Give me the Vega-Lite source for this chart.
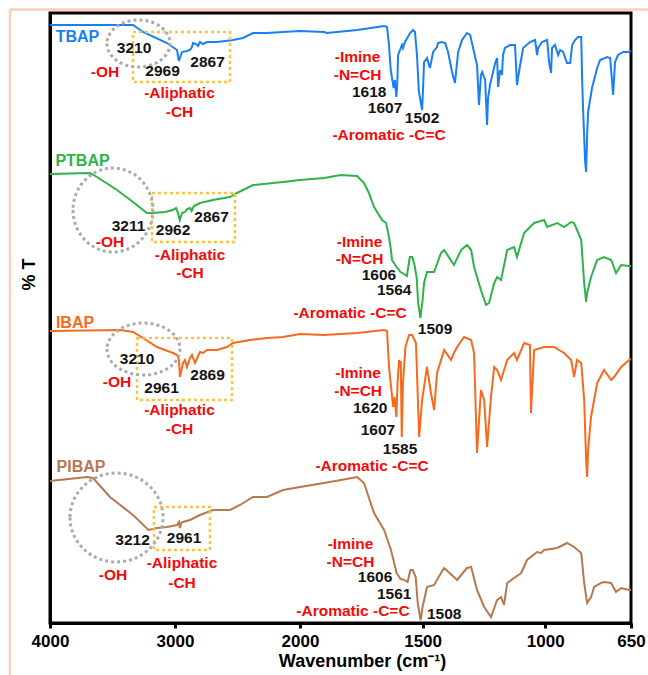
{
  "$schema": "https://vega.github.io/schema/vega-lite/v6.json",
  "width": 581,
  "height": 610,
  "autosize": {"type": "none"},
  "padding": {"left": 50, "top": 13, "right": 17, "bottom": 52},
  "background": "white",
  "config": {
    "font": "Liberation Sans",
    "view": {"stroke": "black", "strokeWidth": 3},
    "axis": {"grid": false, "domainColor": "black", "domainWidth": 3, "titleFontWeight": "bold", "titleColor": "black", "labelColor": "black"}
  },
  "datasets": {
    "one": [{}],
    "spectra": [
      {"s":"TBAP","wn":4000,"t":598},{"s":"TBAP","wn":3336,"t":598},{"s":"TBAP","wn":3256,"t":591},{"s":"TBAP","wn":3064,"t":580},
      {"s":"TBAP","wn":2984,"t":573},{"s":"TBAP","wn":2969,"t":562},{"s":"TBAP","wn":2944,"t":571},{"s":"TBAP","wn":2904,"t":572},
      {"s":"TBAP","wn":2880,"t":573},{"s":"TBAP","wn":2864,"t":576},{"s":"TBAP","wn":2856,"t":580},{"s":"TBAP","wn":2832,"t":579},
      {"s":"TBAP","wn":2816,"t":577},{"s":"TBAP","wn":2800,"t":581},{"s":"TBAP","wn":2776,"t":579},{"s":"TBAP","wn":2744,"t":581},
      {"s":"TBAP","wn":2664,"t":581},{"s":"TBAP","wn":2536,"t":583},{"s":"TBAP","wn":2456,"t":585},{"s":"TBAP","wn":2376,"t":590},
      {"s":"TBAP","wn":2264,"t":590},{"s":"TBAP","wn":2136,"t":591},{"s":"TBAP","wn":2000,"t":592},{"s":"TBAP","wn":1902,"t":591},
      {"s":"TBAP","wn":1890,"t":590},{"s":"TBAP","wn":1767,"t":593},{"s":"TBAP","wn":1657,"t":597},{"s":"TBAP","wn":1645,"t":596},
      {"s":"TBAP","wn":1637,"t":578},{"s":"TBAP","wn":1630,"t":553},{"s":"TBAP","wn":1618,"t":535},{"s":"TBAP","wn":1613,"t":543},
      {"s":"TBAP","wn":1607,"t":526},{"s":"TBAP","wn":1603,"t":541},{"s":"TBAP","wn":1600,"t":568},{"s":"TBAP","wn":1584,"t":578},
      {"s":"TBAP","wn":1580,"t":575},{"s":"TBAP","wn":1572,"t":581},{"s":"TBAP","wn":1551,"t":590},{"s":"TBAP","wn":1539,"t":593},
      {"s":"TBAP","wn":1531,"t":591},{"s":"TBAP","wn":1523,"t":568},{"s":"TBAP","wn":1515,"t":531},{"s":"TBAP","wn":1502,"t":513},
      {"s":"TBAP","wn":1498,"t":535},{"s":"TBAP","wn":1494,"t":561},{"s":"TBAP","wn":1482,"t":565},{"s":"TBAP","wn":1470,"t":555},
      {"s":"TBAP","wn":1457,"t":571},{"s":"TBAP","wn":1441,"t":576},{"s":"TBAP","wn":1437,"t":580},{"s":"TBAP","wn":1421,"t":581},
      {"s":"TBAP","wn":1408,"t":580},{"s":"TBAP","wn":1396,"t":571},{"s":"TBAP","wn":1380,"t":551},{"s":"TBAP","wn":1368,"t":540},
      {"s":"TBAP","wn":1355,"t":571},{"s":"TBAP","wn":1339,"t":583},{"s":"TBAP","wn":1319,"t":590},{"s":"TBAP","wn":1306,"t":588},
      {"s":"TBAP","wn":1294,"t":575},{"s":"TBAP","wn":1278,"t":558},{"s":"TBAP","wn":1270,"t":518},{"s":"TBAP","wn":1262,"t":548},
      {"s":"TBAP","wn":1257,"t":551},{"s":"TBAP","wn":1245,"t":543},{"s":"TBAP","wn":1237,"t":498},{"s":"TBAP","wn":1233,"t":525},
      {"s":"TBAP","wn":1225,"t":538},{"s":"TBAP","wn":1204,"t":560},{"s":"TBAP","wn":1196,"t":565},{"s":"TBAP","wn":1192,"t":536},
      {"s":"TBAP","wn":1184,"t":553},{"s":"TBAP","wn":1176,"t":548},{"s":"TBAP","wn":1172,"t":568},{"s":"TBAP","wn":1164,"t":575},
      {"s":"TBAP","wn":1143,"t":578},{"s":"TBAP","wn":1123,"t":578},{"s":"TBAP","wn":1115,"t":538},{"s":"TBAP","wn":1111,"t":545},
      {"s":"TBAP","wn":1102,"t":558},{"s":"TBAP","wn":1090,"t":575},{"s":"TBAP","wn":1062,"t":581},{"s":"TBAP","wn":1041,"t":583},
      {"s":"TBAP","wn":1033,"t":568},{"s":"TBAP","wn":1029,"t":575},{"s":"TBAP","wn":1013,"t":581},{"s":"TBAP","wn":992,"t":583},
      {"s":"TBAP","wn":984,"t":561},{"s":"TBAP","wn":976,"t":550},{"s":"TBAP","wn":972,"t":575},{"s":"TBAP","wn":960,"t":578},
      {"s":"TBAP","wn":947,"t":568},{"s":"TBAP","wn":939,"t":573},{"s":"TBAP","wn":927,"t":571},{"s":"TBAP","wn":911,"t":560},
      {"s":"TBAP","wn":898,"t":560},{"s":"TBAP","wn":890,"t":578},{"s":"TBAP","wn":878,"t":583},{"s":"TBAP","wn":866,"t":586},
      {"s":"TBAP","wn":853,"t":586},{"s":"TBAP","wn":849,"t":541},{"s":"TBAP","wn":845,"t":511},{"s":"TBAP","wn":837,"t":461},
      {"s":"TBAP","wn":833,"t":451},{"s":"TBAP","wn":829,"t":488},{"s":"TBAP","wn":825,"t":511},{"s":"TBAP","wn":809,"t":535},
      {"s":"TBAP","wn":788,"t":555},{"s":"TBAP","wn":776,"t":563},{"s":"TBAP","wn":747,"t":566},{"s":"TBAP","wn":735,"t":565},
      {"s":"TBAP","wn":727,"t":541},{"s":"TBAP","wn":723,"t":528},{"s":"TBAP","wn":715,"t":561},{"s":"TBAP","wn":703,"t":568},
      {"s":"TBAP","wn":682,"t":571},{"s":"TBAP","wn":662,"t":571},{"s":"TBAP","wn":650,"t":572},

      {"s":"PTBAP","wn":4000,"t":449},{"s":"PTBAP","wn":3680,"t":450},{"s":"PTBAP","wn":3624,"t":446},{"s":"PTBAP","wn":3464,"t":433},
      {"s":"PTBAP","wn":3336,"t":421},{"s":"PTBAP","wn":3224,"t":410},{"s":"PTBAP","wn":3176,"t":410},{"s":"PTBAP","wn":3080,"t":411},
      {"s":"PTBAP","wn":3016,"t":413},{"s":"PTBAP","wn":2992,"t":415},{"s":"PTBAP","wn":2976,"t":410},{"s":"PTBAP","wn":2962,"t":403},
      {"s":"PTBAP","wn":2944,"t":410},{"s":"PTBAP","wn":2920,"t":411},{"s":"PTBAP","wn":2904,"t":414},{"s":"PTBAP","wn":2880,"t":415},
      {"s":"PTBAP","wn":2867,"t":412},{"s":"PTBAP","wn":2848,"t":417},{"s":"PTBAP","wn":2800,"t":420},{"s":"PTBAP","wn":2696,"t":423},
      {"s":"PTBAP","wn":2560,"t":426},{"s":"PTBAP","wn":2504,"t":430},{"s":"PTBAP","wn":2376,"t":438},{"s":"PTBAP","wn":2136,"t":441},
      {"s":"PTBAP","wn":2000,"t":443},{"s":"PTBAP","wn":1902,"t":445},{"s":"PTBAP","wn":1833,"t":448},{"s":"PTBAP","wn":1767,"t":447},
      {"s":"PTBAP","wn":1739,"t":440},{"s":"PTBAP","wn":1719,"t":430},{"s":"PTBAP","wn":1698,"t":416},{"s":"PTBAP","wn":1678,"t":408},
      {"s":"PTBAP","wn":1665,"t":403},{"s":"PTBAP","wn":1649,"t":400},{"s":"PTBAP","wn":1637,"t":386},{"s":"PTBAP","wn":1629,"t":373},
      {"s":"PTBAP","wn":1625,"t":363},{"s":"PTBAP","wn":1606,"t":356},{"s":"PTBAP","wn":1590,"t":351},{"s":"PTBAP","wn":1576,"t":349},
      {"s":"PTBAP","wn":1564,"t":347},{"s":"PTBAP","wn":1552,"t":366},{"s":"PTBAP","wn":1542,"t":366},{"s":"PTBAP","wn":1532,"t":357},
      {"s":"PTBAP","wn":1524,"t":345},{"s":"PTBAP","wn":1518,"t":320},{"s":"PTBAP","wn":1509,"t":305},{"s":"PTBAP","wn":1500,"t":323},
      {"s":"PTBAP","wn":1494,"t":340},{"s":"PTBAP","wn":1482,"t":351},{"s":"PTBAP","wn":1453,"t":351},{"s":"PTBAP","wn":1425,"t":370},
      {"s":"PTBAP","wn":1412,"t":373},{"s":"PTBAP","wn":1372,"t":358},{"s":"PTBAP","wn":1343,"t":373},{"s":"PTBAP","wn":1319,"t":378},
      {"s":"PTBAP","wn":1302,"t":373},{"s":"PTBAP","wn":1290,"t":356},{"s":"PTBAP","wn":1262,"t":333},{"s":"PTBAP","wn":1241,"t":318},
      {"s":"PTBAP","wn":1229,"t":320},{"s":"PTBAP","wn":1208,"t":340},{"s":"PTBAP","wn":1196,"t":346},{"s":"PTBAP","wn":1180,"t":343},
      {"s":"PTBAP","wn":1155,"t":373},{"s":"PTBAP","wn":1127,"t":376},{"s":"PTBAP","wn":1115,"t":366},{"s":"PTBAP","wn":1086,"t":390},
      {"s":"PTBAP","wn":1045,"t":400},{"s":"PTBAP","wn":1004,"t":403},{"s":"PTBAP","wn":992,"t":396},{"s":"PTBAP","wn":951,"t":400},
      {"s":"PTBAP","wn":923,"t":396},{"s":"PTBAP","wn":894,"t":401},{"s":"PTBAP","wn":882,"t":400},{"s":"PTBAP","wn":853,"t":383},
      {"s":"PTBAP","wn":841,"t":340},{"s":"PTBAP","wn":833,"t":321},{"s":"PTBAP","wn":829,"t":330},{"s":"PTBAP","wn":813,"t":346},
      {"s":"PTBAP","wn":788,"t":363},{"s":"PTBAP","wn":760,"t":366},{"s":"PTBAP","wn":731,"t":363},{"s":"PTBAP","wn":711,"t":350},
      {"s":"PTBAP","wn":690,"t":358},{"s":"PTBAP","wn":658,"t":357},{"s":"PTBAP","wn":650,"t":357},

      {"s":"IBAP","wn":4000,"t":292},{"s":"IBAP","wn":3440,"t":293},{"s":"IBAP","wn":3336,"t":291},{"s":"IBAP","wn":3256,"t":285},
      {"s":"IBAP","wn":3144,"t":276},{"s":"IBAP","wn":3016,"t":270},{"s":"IBAP","wn":2984,"t":268},{"s":"IBAP","wn":2968,"t":263},
      {"s":"IBAP","wn":2961,"t":246},{"s":"IBAP","wn":2952,"t":251},{"s":"IBAP","wn":2936,"t":260},{"s":"IBAP","wn":2920,"t":263},
      {"s":"IBAP","wn":2904,"t":256},{"s":"IBAP","wn":2880,"t":265},{"s":"IBAP","wn":2864,"t":268},{"s":"IBAP","wn":2840,"t":260},
      {"s":"IBAP","wn":2800,"t":271},{"s":"IBAP","wn":2776,"t":270},{"s":"IBAP","wn":2744,"t":273},{"s":"IBAP","wn":2664,"t":273},
      {"s":"IBAP","wn":2584,"t":276},{"s":"IBAP","wn":2536,"t":280},{"s":"IBAP","wn":2400,"t":283},{"s":"IBAP","wn":2264,"t":285},
      {"s":"IBAP","wn":2136,"t":286},{"s":"IBAP","wn":2000,"t":289},{"s":"IBAP","wn":1902,"t":288},{"s":"IBAP","wn":1767,"t":290},
      {"s":"IBAP","wn":1657,"t":293},{"s":"IBAP","wn":1645,"t":292},{"s":"IBAP","wn":1637,"t":256},{"s":"IBAP","wn":1620,"t":216},
      {"s":"IBAP","wn":1614,"t":226},{"s":"IBAP","wn":1607,"t":206},{"s":"IBAP","wn":1602,"t":240},{"s":"IBAP","wn":1596,"t":263},
      {"s":"IBAP","wn":1592,"t":256},{"s":"IBAP","wn":1589,"t":262},{"s":"IBAP","wn":1585,"t":186},{"s":"IBAP","wn":1580,"t":240},
      {"s":"IBAP","wn":1570,"t":276},{"s":"IBAP","wn":1555,"t":288},{"s":"IBAP","wn":1543,"t":288},{"s":"IBAP","wn":1527,"t":280},
      {"s":"IBAP","wn":1514,"t":186},{"s":"IBAP","wn":1502,"t":223},{"s":"IBAP","wn":1482,"t":256},{"s":"IBAP","wn":1466,"t":230},
      {"s":"IBAP","wn":1453,"t":213},{"s":"IBAP","wn":1441,"t":250},{"s":"IBAP","wn":1412,"t":273},{"s":"IBAP","wn":1384,"t":263},
      {"s":"IBAP","wn":1372,"t":270},{"s":"IBAP","wn":1359,"t":276},{"s":"IBAP","wn":1331,"t":286},{"s":"IBAP","wn":1302,"t":283},
      {"s":"IBAP","wn":1290,"t":270},{"s":"IBAP","wn":1278,"t":170},{"s":"IBAP","wn":1262,"t":233},{"s":"IBAP","wn":1249,"t":223},
      {"s":"IBAP","wn":1237,"t":176},{"s":"IBAP","wn":1221,"t":226},{"s":"IBAP","wn":1208,"t":256},{"s":"IBAP","wn":1196,"t":253},
      {"s":"IBAP","wn":1180,"t":243},{"s":"IBAP","wn":1155,"t":263},{"s":"IBAP","wn":1127,"t":270},{"s":"IBAP","wn":1115,"t":263},
      {"s":"IBAP","wn":1086,"t":280},{"s":"IBAP","wn":1062,"t":278},{"s":"IBAP","wn":1058,"t":210},{"s":"IBAP","wn":1045,"t":273},
      {"s":"IBAP","wn":1004,"t":276},{"s":"IBAP","wn":964,"t":276},{"s":"IBAP","wn":923,"t":270},{"s":"IBAP","wn":894,"t":263},
      {"s":"IBAP","wn":882,"t":246},{"s":"IBAP","wn":870,"t":263},{"s":"IBAP","wn":853,"t":260},{"s":"IBAP","wn":841,"t":223},
      {"s":"IBAP","wn":833,"t":163},{"s":"IBAP","wn":829,"t":146},{"s":"IBAP","wn":825,"t":173},{"s":"IBAP","wn":813,"t":206},
      {"s":"IBAP","wn":788,"t":240},{"s":"IBAP","wn":760,"t":253},{"s":"IBAP","wn":731,"t":243},{"s":"IBAP","wn":719,"t":246},
      {"s":"IBAP","wn":690,"t":256},{"s":"IBAP","wn":658,"t":263},{"s":"IBAP","wn":650,"t":264},

      {"s":"PIBAP","wn":4000,"t":142},{"s":"PIBAP","wn":3704,"t":146},{"s":"PIBAP","wn":3656,"t":145},{"s":"PIBAP","wn":3520,"t":126},
      {"s":"PIBAP","wn":3336,"t":108},{"s":"PIBAP","wn":3212,"t":93},{"s":"PIBAP","wn":3144,"t":95},{"s":"PIBAP","wn":3064,"t":96},
      {"s":"PIBAP","wn":2984,"t":98},{"s":"PIBAP","wn":2968,"t":101},{"s":"PIBAP","wn":2961,"t":95},{"s":"PIBAP","wn":2950,"t":100},
      {"s":"PIBAP","wn":2936,"t":101},{"s":"PIBAP","wn":2880,"t":103},{"s":"PIBAP","wn":2800,"t":108},{"s":"PIBAP","wn":2696,"t":113},
      {"s":"PIBAP","wn":2560,"t":113},{"s":"PIBAP","wn":2480,"t":118},{"s":"PIBAP","wn":2376,"t":126},{"s":"PIBAP","wn":2264,"t":126},
      {"s":"PIBAP","wn":2136,"t":133},{"s":"PIBAP","wn":2000,"t":136},{"s":"PIBAP","wn":1902,"t":140},{"s":"PIBAP","wn":1833,"t":143},
      {"s":"PIBAP","wn":1767,"t":146},{"s":"PIBAP","wn":1739,"t":140},{"s":"PIBAP","wn":1698,"t":110},{"s":"PIBAP","wn":1657,"t":93},
      {"s":"PIBAP","wn":1629,"t":73},{"s":"PIBAP","wn":1606,"t":50},{"s":"PIBAP","wn":1590,"t":44},{"s":"PIBAP","wn":1575,"t":43},
      {"s":"PIBAP","wn":1561,"t":41},{"s":"PIBAP","wn":1550,"t":53},{"s":"PIBAP","wn":1540,"t":53},{"s":"PIBAP","wn":1528,"t":46},
      {"s":"PIBAP","wn":1520,"t":20},{"s":"PIBAP","wn":1508,"t":3},{"s":"PIBAP","wn":1500,"t":16},{"s":"PIBAP","wn":1482,"t":36},
      {"s":"PIBAP","wn":1453,"t":38},{"s":"PIBAP","wn":1425,"t":50},{"s":"PIBAP","wn":1412,"t":55},{"s":"PIBAP","wn":1359,"t":43},
      {"s":"PIBAP","wn":1319,"t":55},{"s":"PIBAP","wn":1302,"t":56},{"s":"PIBAP","wn":1278,"t":33},{"s":"PIBAP","wn":1249,"t":16},
      {"s":"PIBAP","wn":1221,"t":6},{"s":"PIBAP","wn":1196,"t":23},{"s":"PIBAP","wn":1180,"t":26},{"s":"PIBAP","wn":1168,"t":18},
      {"s":"PIBAP","wn":1155,"t":40},{"s":"PIBAP","wn":1127,"t":45},{"s":"PIBAP","wn":1098,"t":50},{"s":"PIBAP","wn":1074,"t":63},
      {"s":"PIBAP","wn":1033,"t":71},{"s":"PIBAP","wn":1017,"t":70},{"s":"PIBAP","wn":1004,"t":73},{"s":"PIBAP","wn":951,"t":75},
      {"s":"PIBAP","wn":911,"t":80},{"s":"PIBAP","wn":882,"t":76},{"s":"PIBAP","wn":853,"t":70},{"s":"PIBAP","wn":841,"t":40},
      {"s":"PIBAP","wn":829,"t":20},{"s":"PIBAP","wn":813,"t":26},{"s":"PIBAP","wn":800,"t":36},{"s":"PIBAP","wn":772,"t":40},
      {"s":"PIBAP","wn":760,"t":41},{"s":"PIBAP","wn":731,"t":40},{"s":"PIBAP","wn":711,"t":31},{"s":"PIBAP","wn":690,"t":35},
      {"s":"PIBAP","wn":658,"t":33},{"s":"PIBAP","wn":650,"t":33}
    ],
    "names": [
      {"s":"TBAP","wn":3780,"t":586},
      {"s":"PTBAP","wn":3740,"t":462},
      {"s":"IBAP","wn":3800,"t":300},
      {"s":"PIBAP","wn":3752,"t":156}
    ],
    "peaks": [
      {"wn":3328,"t":575,"label":"3210"},{"wn":3100,"t":552,"label":"2969"},{"wn":2740,"t":561,"label":"2867"},
      {"wn":1718,"t":531,"label":"1618"},{"wn":1653,"t":515,"label":"1607"},{"wn":1502,"t":505,"label":"1502"},
      {"wn":3372,"t":397,"label":"3211"},{"wn":3016,"t":393,"label":"2962"},{"wn":2708,"t":406,"label":"2867"},
      {"wn":1678,"t":348,"label":"1606"},{"wn":1616,"t":333,"label":"1564"},{"wn":1449,"t":294,"label":"1509"},
      {"wn":3304,"t":264,"label":"3210"},{"wn":3108,"t":235,"label":"2961"},{"wn":2740,"t":248,"label":"2869"},
      {"wn":1714,"t":215,"label":"1620"},{"wn":1682,"t":193,"label":"1607"},{"wn":1592,"t":174,"label":"1585"},
      {"wn":3340,"t":83,"label":"3212"},{"wn":2928,"t":85,"label":"2961"},
      {"wn":1694,"t":46,"label":"1606"},{"wn":1616,"t":29,"label":"1561"},{"wn":1412,"t":9,"label":"1508"}
    ],
    "groups": [
      {"wn":3560,"t":551,"label":"-OH"},{"wn":2964,"t":530,"label":"-Aliphatic"},{"wn":2964,"t":511,"label":"-CH"},
      {"wn":1765,"t":566,"label":"-Imine"},{"wn":1765,"t":548,"label":"-N=CH"},{"wn":1637,"t":488,"label":"-Aromatic -C=C"},
      {"wn":3520,"t":381,"label":"-OH"},{"wn":2880,"t":368,"label":"-Aliphatic"},{"wn":2880,"t":350,"label":"-CH"},
      {"wn":1757,"t":381,"label":"-Imine"},{"wn":1757,"t":364,"label":"-N=CH"},{"wn":1796,"t":310,"label":"-Aromatic -C=C"},
      {"wn":3464,"t":241,"label":"-OH"},{"wn":2964,"t":213,"label":"-Aliphatic"},{"wn":2964,"t":194,"label":"-CH"},
      {"wn":1763,"t":250,"label":"-Imine"},{"wn":1763,"t":232,"label":"-N=CH"},{"wn":1706,"t":157,"label":"-Aromatic -C=C"},
      {"wn":3496,"t":48,"label":"-OH"},{"wn":2944,"t":60,"label":"-Aliphatic"},{"wn":2944,"t":40,"label":"-CH"},
      {"wn":1794,"t":79,"label":"-Imine"},{"wn":1794,"t":61,"label":"-N=CH"},{"wn":1784,"t":12,"label":"-Aromatic -C=C"}
    ],
    "bands": [
      {"wn1":3336,"wn2":2560,"t1":591,"t2":541},
      {"wn1":3184,"wn2":2520,"t1":430,"t2":381},
      {"wn1":3304,"wn2":2544,"t1":285,"t2":223},
      {"wn1":3168,"wn2":2720,"t1":116,"t2":73}
    ]
  },
  "layer": [
    {
      "data": {"name": "one"},
      "mark": {"type": "rule", "stroke": "#f9cfb6", "strokeWidth": 2.5},
      "encoding": {
        "x": {"datum": 4320, "type": "quantitative"},
        "y": {"datum": 613.5, "type": "quantitative"},
        "y2": {"datum": -80}
      }
    },
    {
      "data": {"name": "one"},
      "mark": {"type": "rule", "stroke": "#f9cfb6", "strokeWidth": 2.5},
      "encoding": {
        "x": {"datum": 4320, "type": "quantitative"},
        "x2": {"datum": 450},
        "y": {"datum": 613.5, "type": "quantitative"}
      }
    },
    {
      "data": {"name": "spectra"},
      "mark": {"type": "line", "strokeWidth": 2},
      "encoding": {
        "x": {
          "field": "wn", "type": "quantitative",
          "scale": {"type": "linear", "domain": [4000, 2000, 650], "range": [0, 250, 581], "nice": false, "zero": false},
          "axis": {
            "values": [4000, 3000, 2000, 1500, 1000, 650], "format": "d",
            "labelFontSize": 17, "labelFontWeight": "bold", "labelPadding": 5, "labelFlush": false, "labelOverlap": false,
            "tickSize": 5, "tickWidth": 3, "tickColor": "black",
            "title": "Wavenumber (cm⁻¹)", "titleFontSize": 18, "titleX": 312, "titleY": 38,
            "titleAlign": "center", "titleBaseline": "middle"
          }
        },
        "y": {
          "field": "t", "type": "quantitative",
          "scale": {"domain": [0, 610], "nice": false, "zero": false},
          "axis": {
            "labels": false, "ticks": false, "title": "% T", "titleFontSize": 18,
            "titleAngle": 270, "titleX": -21, "titleY": 261, "titleAlign": "center", "titleBaseline": "middle"
          }
        },
        "color": {
          "field": "s", "type": "nominal", "legend": null,
          "scale": {"domain": ["TBAP", "PTBAP", "IBAP", "PIBAP"], "range": ["#1a7ff2", "#2db34a", "#f7691d", "#b8784e"]}
        }
      }
    },
    {
      "data": {"name": "bands"},
      "mark": {"type": "rect", "fill": "transparent", "stroke": "#fcc43c", "strokeWidth": 2.5, "strokeDash": [3, 3]},
      "encoding": {
        "x": {"field": "wn1", "type": "quantitative"},
        "x2": {"field": "wn2"},
        "y": {"field": "t1", "type": "quantitative"},
        "y2": {"field": "t2"}
      }
    },
    {
      "data": {"name": "one"},
      "mark": {"type": "point", "filled": false, "opacity": 1, "stroke": "#ababab", "strokeWidth": 3, "strokeDash": [3, 3],
               "shape": "M -1 0 A 1 0.746 0 1 0 1 0 A 1 0.746 0 1 0 -1 0 Z", "size": 3969},
      "encoding": {"x": {"datum": 3292, "type": "quantitative"}, "y": {"datum": 579.5, "type": "quantitative"}}
    },
    {
      "data": {"name": "one"},
      "mark": {"type": "point", "filled": false, "opacity": 1, "stroke": "#ababab", "strokeWidth": 3, "strokeDash": [3, 3],
               "shape": "M -0.952 0 A 0.952 1 0 1 0 0.952 0 A 0.952 1 0 1 0 -0.952 0 Z", "size": 7056},
      "encoding": {"x": {"datum": 3496, "type": "quantitative"}, "y": {"datum": 413, "type": "quantitative"}}
    },
    {
      "data": {"name": "one"},
      "mark": {"type": "point", "filled": false, "opacity": 1, "stroke": "#ababab", "strokeWidth": 3, "strokeDash": [3, 3],
               "shape": "M -1 0 A 1 0.712 0 1 0 1 0 A 1 0.712 0 1 0 -1 0 Z", "size": 5329},
      "encoding": {"x": {"datum": 3252, "type": "quantitative"}, "y": {"datum": 274, "type": "quantitative"}}
    },
    {
      "data": {"name": "one"},
      "mark": {"type": "point", "filled": false, "opacity": 1, "stroke": "#ababab", "strokeWidth": 3, "strokeDash": [3, 3],
               "shape": "M -1 0 A 1 0.957 0 1 0 1 0 A 1 0.957 0 1 0 -1 0 Z", "size": 8649},
      "encoding": {"x": {"datum": 3468, "type": "quantitative"}, "y": {"datum": 105.5, "type": "quantitative"}}
    },
    {
      "data": {"name": "names"},
      "mark": {"type": "text", "fontSize": 16, "fontWeight": "bold", "align": "center", "baseline": "middle"},
      "encoding": {
        "x": {"field": "wn", "type": "quantitative"},
        "y": {"field": "t", "type": "quantitative"},
        "text": {"field": "s"},
        "color": {"field": "s", "type": "nominal", "legend": null}
      }
    },
    {
      "data": {"name": "peaks"},
      "mark": {"type": "text", "fontSize": 15.5, "fontWeight": "bold", "align": "center", "baseline": "middle", "color": "#141414"},
      "encoding": {
        "x": {"field": "wn", "type": "quantitative"},
        "y": {"field": "t", "type": "quantitative"},
        "text": {"field": "label"}
      }
    },
    {
      "data": {"name": "groups"},
      "mark": {"type": "text", "fontSize": 15.5, "fontWeight": "bold", "align": "center", "baseline": "middle", "color": "#f50a0a"},
      "encoding": {
        "x": {"field": "wn", "type": "quantitative"},
        "y": {"field": "t", "type": "quantitative"},
        "text": {"field": "label"}
      }
    }
  ]
}
